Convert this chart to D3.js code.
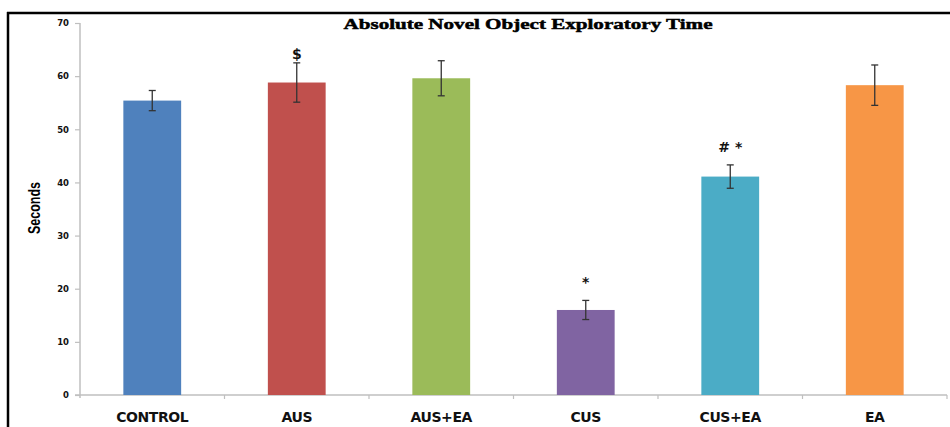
<!DOCTYPE html>
<html>
<head>
<meta charset="utf-8">
<script src="https://cdn.jsdelivr.net/npm/d3@7"></script>
<style>
  html, body { margin: 0; padding: 0; background: #fff; }
  svg { display: block; }
</style>
</head>
<body>
<svg id="chart" width="950" height="427"></svg>
<script>
// Absolute novel object exploratory time per group (seconds, mean ± SEM)
const groups = ["CONTROL", "AUS", "AUS+EA", "CUS", "CUS+EA", "EA"];
const means = [55.4, 58.8, 59.6, 16.0, 41.1, 58.3];
const errors = [1.9, 3.7, 3.3, 1.8, 2.2, 3.8];
const markers = ["", "$", "", "*", "# *", ""];
const colors = ["#4f81bd", "#c0504d", "#9bbb59", "#8064a2", "#4bacc6", "#f79646"];
const yTicks = [0, 10, 20, 30, 40, 50, 60, 70];

const svg = d3.select("#chart");
const W = 950, H = 427;
const plot = { left: 80, right: 947, top: 23, bottom: 395 };

// frame around the figure
svg.append("line").attr("x1", 7).attr("x2", W).attr("y1", 13).attr("y2", 13)
  .attr("stroke", "#000").attr("stroke-width", 2.5);
svg.append("line").attr("x1", 8).attr("x2", 8).attr("y1", 12).attr("y2", H)
  .attr("stroke", "#000").attr("stroke-width", 2.5);

const x = d3.scaleBand().domain(groups).range([plot.left, plot.right]).padding(0);
const y = d3.scaleLinear().domain([0, 70]).range([plot.bottom, plot.top]);
const barW = x.step() * 0.4;

// y axis
const yAxis = svg.append("g").attr("transform", `translate(${plot.left},0)`)
  .call(d3.axisLeft(y).tickValues(yTicks).tickSize(5).tickPadding(6));
yAxis.select(".domain").attr("stroke", "#bfbfbf").attr("stroke-width", 1.5)
  .attr("d", `M0,${plot.top}V${plot.bottom + 3}`);
yAxis.selectAll(".tick line").attr("stroke", "#bfbfbf").attr("stroke-width", 1.2);
yAxis.selectAll(".tick text")
  .attr("font-family", "DejaVu Sans, sans-serif").attr("font-weight", "bold")
  .attr("font-size", 8.5).attr("fill", "#111");

// x axis with boundary ticks between categories
const xAxisG = svg.append("g");
xAxisG.append("line").attr("x1", plot.left - 5).attr("x2", plot.right)
  .attr("y1", plot.bottom).attr("y2", plot.bottom)
  .attr("stroke", "#bfbfbf").attr("stroke-width", 1.5);
const bounds = groups.map(g => x(g)).concat([plot.right]);
xAxisG.selectAll("line.bt").data(bounds.slice(1)).enter().append("line")
  .attr("class", "bt").attr("x1", d => d).attr("x2", d => d)
  .attr("y1", plot.bottom).attr("y2", plot.bottom + 4)
  .attr("stroke", "#bfbfbf").attr("stroke-width", 1.2);
xAxisG.selectAll("text").data(groups).enter().append("text")
  .attr("x", d => x(d) + x.bandwidth() / 2).attr("y", 422)
  .attr("text-anchor", "middle")
  .attr("font-family", "DejaVu Sans, sans-serif").attr("font-weight", "bold")
  .attr("font-size", 14).attr("letter-spacing", -0.4).attr("fill", "#111")
  .text(d => d);

// bars
svg.selectAll("rect.bar").data(groups).enter().append("rect")
  .attr("class", "bar")
  .attr("x", d => x(d) + (x.bandwidth() - barW) / 2)
  .attr("width", barW)
  .attr("y", (d, i) => y(means[i]))
  .attr("height", (d, i) => y(0) - y(means[i]))
  .attr("fill", (d, i) => colors[i]);

// error bars
const eb = svg.selectAll("g.err").data(groups).enter().append("g").attr("class", "err");
eb.append("line")
  .attr("x1", d => x(d) + x.bandwidth() / 2).attr("x2", d => x(d) + x.bandwidth() / 2)
  .attr("y1", (d, i) => y(means[i] + errors[i])).attr("y2", (d, i) => y(means[i] - errors[i]))
  .attr("stroke", "#333").attr("stroke-width", 1.3);
[1, -1].forEach(s => {
  eb.append("line")
    .attr("x1", d => x(d) + x.bandwidth() / 2 - 3.5).attr("x2", d => x(d) + x.bandwidth() / 2 + 3.5)
    .attr("y1", (d, i) => y(means[i] + s * errors[i])).attr("y2", (d, i) => y(means[i] + s * errors[i]))
    .attr("stroke", "#333").attr("stroke-width", 1.3);
});

// significance markers
svg.selectAll("text.sig").data(groups).enter().append("text")
  .attr("class", "sig")
  .attr("x", d => x(d) + x.bandwidth() / 2)
  .attr("y", (d, i) => y(means[i] + errors[i]) - (markers[i] === "$" ? 4 : 13))
  .attr("text-anchor", "middle")
  .attr("font-family", "DejaVu Sans, sans-serif").attr("font-weight", "bold")
  .attr("font-size", 14).attr("fill", "#111")
  .text((d, i) => markers[i]);

// title
svg.append("text").attr("x", 528).attr("y", 29).attr("text-anchor", "middle")
  .attr("font-family", "Liberation Serif, Times New Roman, serif").attr("font-weight", "bold")
  .attr("font-size", 15.5).attr("textLength", 369).attr("lengthAdjust", "spacingAndGlyphs")
  .attr("fill", "#000").attr("stroke", "#000").attr("stroke-width", 0.5)
  .text("Absolute Novel Object Exploratory Time");

// y axis title
svg.append("text")
  .attr("transform", "translate(40,208) rotate(-90)")
  .attr("text-anchor", "middle")
  .attr("font-family", "Liberation Sans, sans-serif").attr("font-weight", "bold")
  .attr("font-size", 16).attr("textLength", 52).attr("lengthAdjust", "spacingAndGlyphs")
  .attr("fill", "#000")
  .text("Seconds");
</script>
</body>
</html>
